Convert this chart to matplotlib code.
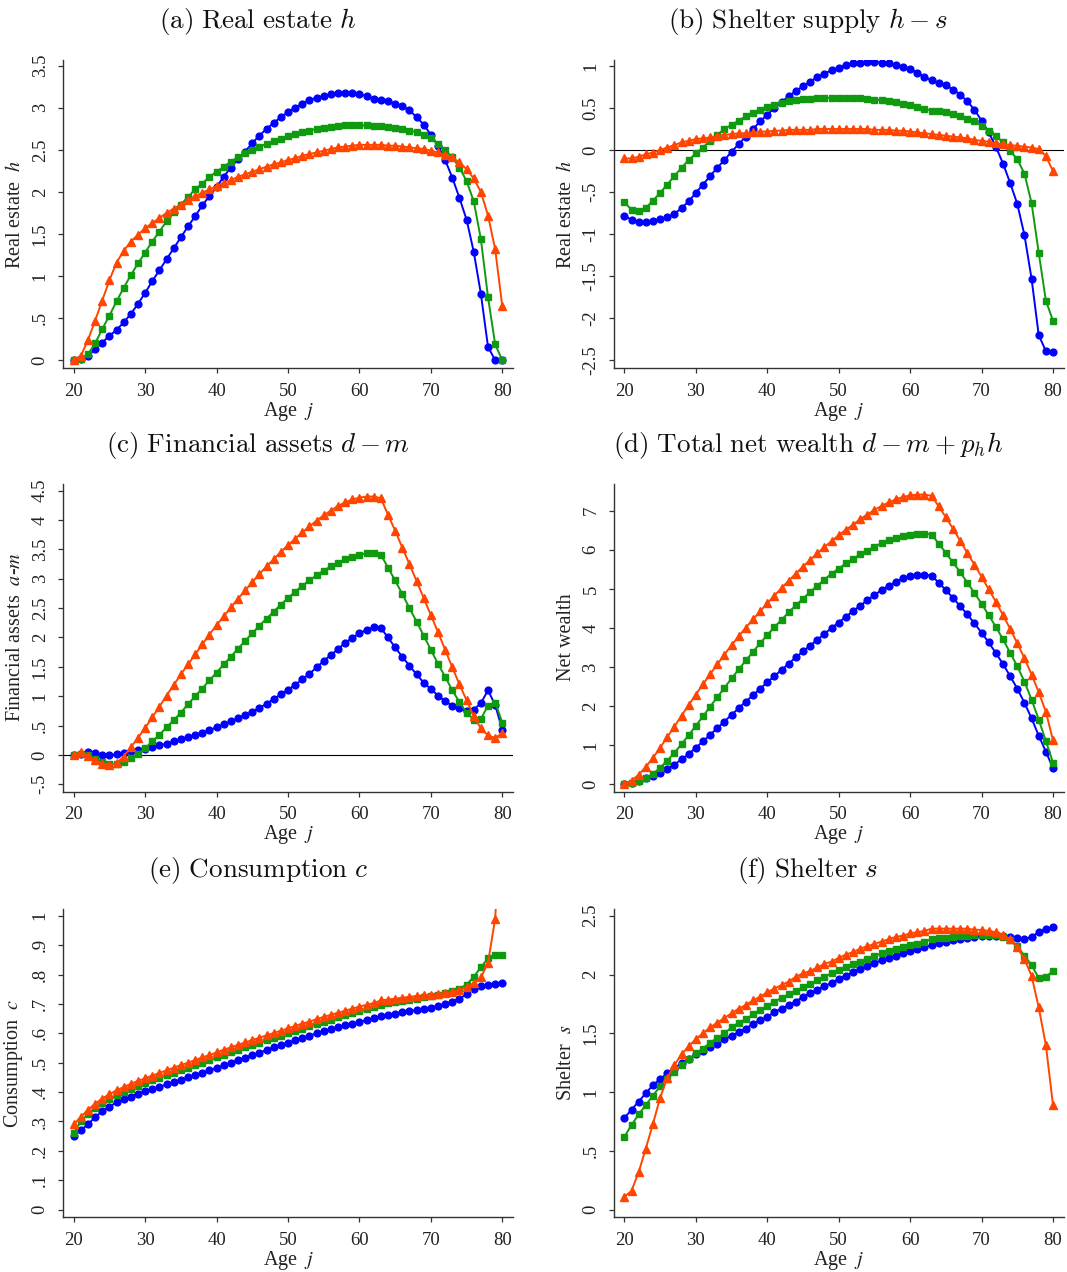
import numpy as np
import matplotlib
matplotlib.use("Agg")
import matplotlib.pyplot as plt

# Edades del ciclo de vida
ages = np.arange(20, 81)

# (a) Real estate h
h_blue = [0.00, 0.01, 0.05, 0.13, 0.21, 0.29, 0.36, 0.45, 0.55, 0.67,
          0.80, 0.94, 1.07, 1.20, 1.33, 1.46, 1.59, 1.71, 1.84, 1.95,
          2.06, 2.18, 2.29, 2.39, 2.48, 2.58, 2.67, 2.75, 2.82, 2.89,
          2.95, 3.00, 3.05, 3.09, 3.12, 3.14, 3.16, 3.17, 3.18, 3.17,
          3.16, 3.14, 3.11, 3.09, 3.08, 3.05, 3.02, 2.97, 2.89, 2.80,
          2.68, 2.55, 2.38, 2.17, 1.93, 1.67, 1.29, 0.79, 0.16, 0.00, 0.00]
h_green = [0.00, 0.01, 0.07, 0.20, 0.37, 0.53, 0.70, 0.86, 1.01, 1.15,
           1.28, 1.41, 1.53, 1.65, 1.76, 1.85, 1.94, 2.03, 2.10, 2.18,
           2.24, 2.30, 2.36, 2.41, 2.46, 2.50, 2.54, 2.57, 2.60, 2.63,
           2.66, 2.69, 2.71, 2.73, 2.75, 2.76, 2.77, 2.78, 2.79, 2.79,
           2.79, 2.79, 2.78, 2.78, 2.77, 2.76, 2.75, 2.73, 2.71, 2.68,
           2.64, 2.57, 2.50, 2.41, 2.29, 2.13, 1.89, 1.44, 0.75, 0.19, 0.00]
h_red = [0.00, 0.05, 0.24, 0.47, 0.71, 0.95, 1.16, 1.30, 1.41, 1.49,
         1.57, 1.63, 1.69, 1.75, 1.80, 1.85, 1.90, 1.95, 1.99, 2.03,
         2.07, 2.11, 2.14, 2.18, 2.21, 2.24, 2.27, 2.30, 2.33, 2.35,
         2.38, 2.40, 2.43, 2.45, 2.47, 2.49, 2.51, 2.53, 2.54, 2.55,
         2.56, 2.56, 2.56, 2.56, 2.55, 2.55, 2.54, 2.53, 2.52, 2.51,
         2.49, 2.47, 2.44, 2.41, 2.35, 2.27, 2.16, 2.00, 1.72, 1.32, 0.64]

# (b) Shelter supply h - s
hs_blue = [-0.78, -0.83, -0.86, -0.86, -0.84, -0.82, -0.80, -0.76, -0.69, -0.61,
           -0.51, -0.41, -0.31, -0.21, -0.12, -0.02, 0.07, 0.16, 0.25, 0.34,
           0.42, 0.50, 0.57, 0.64, 0.70, 0.76, 0.81, 0.87, 0.91, 0.95,
           0.98, 1.01, 1.03, 1.04, 1.05, 1.05, 1.04, 1.03, 1.01, 0.99,
           0.96, 0.92, 0.87, 0.83, 0.80, 0.77, 0.72, 0.66, 0.58, 0.48,
           0.35, 0.21, 0.04, -0.16, -0.39, -0.64, -1.01, -1.53, -2.20, -2.39, -2.40]
hs_green = [-0.62, -0.71, -0.73, -0.69, -0.60, -0.51, -0.41, -0.31, -0.21, -0.12,
            -0.04, 0.03, 0.11, 0.18, 0.25, 0.30, 0.35, 0.40, 0.44, 0.48,
            0.51, 0.54, 0.56, 0.58, 0.59, 0.61, 0.61, 0.62, 0.62, 0.62,
            0.62, 0.62, 0.62, 0.62, 0.61, 0.60, 0.59, 0.58, 0.57, 0.55,
            0.53, 0.51, 0.49, 0.47, 0.46, 0.45, 0.43, 0.40, 0.37, 0.34,
            0.29, 0.23, 0.17, 0.09, -0.01, -0.11, -0.28, -0.63, -1.22, -1.79, -2.03]
hs_red = [-0.10, -0.10, -0.08, -0.05, -0.03, 0.00, 0.03, 0.06, 0.09, 0.11,
          0.13, 0.14, 0.15, 0.17, 0.18, 0.19, 0.20, 0.20, 0.21, 0.22,
          0.22, 0.23, 0.23, 0.24, 0.24, 0.24, 0.24, 0.25, 0.25, 0.25,
          0.25, 0.25, 0.25, 0.25, 0.25, 0.24, 0.24, 0.24, 0.23, 0.23,
          0.22, 0.21, 0.20, 0.19, 0.18, 0.17, 0.16, 0.15, 0.14, 0.12,
          0.11, 0.10, 0.08, 0.07, 0.06, 0.05, 0.04, 0.03, 0.01, -0.07, -0.25]

# (c) Financial assets d - m
fa_blue = [0.00, 0.02, 0.05, 0.03, 0.00, -0.01, 0.01, 0.04, 0.06, 0.08,
           0.10, 0.13, 0.16, 0.19, 0.23, 0.27, 0.30, 0.34, 0.38, 0.42,
           0.47, 0.52, 0.57, 0.62, 0.68, 0.73, 0.80, 0.87, 0.95, 1.03,
           1.11, 1.19, 1.29, 1.38, 1.49, 1.60, 1.70, 1.80, 1.91, 1.99,
           2.07, 2.13, 2.17, 2.16, 2.00, 1.83, 1.67, 1.52, 1.37, 1.23,
           1.12, 1.01, 0.91, 0.84, 0.79, 0.74, 0.77, 0.88, 1.10, 0.85, 0.43]
fa_green = [0.00, 0.02, 0.00, -0.07, -0.13, -0.16, -0.15, -0.12, -0.06, 0.02,
            0.11, 0.23, 0.34, 0.47, 0.59, 0.72, 0.86, 1.00, 1.13, 1.27,
            1.40, 1.54, 1.67, 1.81, 1.94, 2.07, 2.20, 2.32, 2.44, 2.56,
            2.67, 2.78, 2.88, 2.97, 3.06, 3.14, 3.21, 3.27, 3.33, 3.37,
            3.41, 3.43, 3.43, 3.41, 3.19, 2.97, 2.74, 2.50, 2.27, 2.03,
            1.79, 1.55, 1.33, 1.10, 0.90, 0.72, 0.60, 0.61, 0.84, 0.89, 0.55]
fa_red = [0.00, 0.05, -0.02, -0.09, -0.15, -0.17, -0.14, -0.03, 0.13, 0.29,
          0.46, 0.64, 0.82, 1.01, 1.19, 1.37, 1.54, 1.71, 1.88, 2.05,
          2.21, 2.36, 2.51, 2.66, 2.80, 2.94, 3.08, 3.21, 3.33, 3.46,
          3.57, 3.68, 3.79, 3.89, 3.99, 4.08, 4.16, 4.24, 4.30, 4.35,
          4.38, 4.40, 4.40, 4.37, 4.09, 3.82, 3.53, 3.25, 2.96, 2.67,
          2.38, 2.09, 1.79, 1.49, 1.20, 0.93, 0.66, 0.45, 0.33, 0.29, 0.37]

# (d) Total net wealth
nw_blue = [0.00, 0.05, 0.10, 0.16, 0.22, 0.30, 0.40, 0.51, 0.64, 0.78,
           0.94, 1.10, 1.27, 1.44, 1.61, 1.78, 1.95, 2.12, 2.28, 2.45,
           2.61, 2.77, 2.93, 3.09, 3.25, 3.40, 3.55, 3.70, 3.85, 4.00,
           4.14, 4.29, 4.43, 4.57, 4.71, 4.84, 4.97, 5.08, 5.18, 5.27,
           5.32, 5.35, 5.36, 5.34, 5.16, 4.97, 4.77, 4.56, 4.35, 4.12,
           3.88, 3.63, 3.36, 3.08, 2.77, 2.45, 2.09, 1.69, 1.25, 0.84, 0.42]
nw_green = [0.00, 0.04, 0.09, 0.16, 0.27, 0.43, 0.61, 0.81, 1.03, 1.26,
            1.50, 1.74, 1.99, 2.23, 2.47, 2.71, 2.94, 3.17, 3.39, 3.61,
            3.82, 4.02, 4.21, 4.40, 4.58, 4.75, 4.92, 5.08, 5.24, 5.39,
            5.52, 5.65, 5.77, 5.88, 5.98, 6.08, 6.17, 6.25, 6.31, 6.36,
            6.39, 6.41, 6.41, 6.39, 6.16, 5.92, 5.68, 5.43, 5.16, 4.90,
            4.62, 4.33, 4.03, 3.71, 3.37, 3.02, 2.63, 2.17, 1.66, 1.11, 0.56]
nw_red = [0.00, 0.10, 0.25, 0.45, 0.68, 0.94, 1.21, 1.48, 1.76, 2.03,
          2.30, 2.56, 2.82, 3.07, 3.32, 3.56, 3.79, 4.01, 4.22, 4.43,
          4.63, 4.83, 5.02, 5.21, 5.39, 5.57, 5.74, 5.91, 6.07, 6.22,
          6.37, 6.51, 6.64, 6.78, 6.90, 7.02, 7.12, 7.21, 7.29, 7.35,
          7.39, 7.41, 7.41, 7.38, 7.11, 6.83, 6.54, 6.23, 5.92, 5.62,
          5.31, 4.99, 4.67, 4.33, 3.98, 3.61, 3.23, 2.81, 2.36, 1.86, 1.13]

# (e) Consumption c
c_blue = [0.250, 0.270, 0.290, 0.315, 0.335, 0.350, 0.365, 0.375, 0.385, 0.395,
          0.403, 0.410, 0.418, 0.426, 0.434, 0.442, 0.450, 0.458, 0.466, 0.474,
          0.483, 0.491, 0.500, 0.509, 0.517, 0.526, 0.534, 0.543, 0.552, 0.560,
          0.568, 0.576, 0.584, 0.592, 0.600, 0.607, 0.614, 0.621, 0.627, 0.633,
          0.639, 0.645, 0.651, 0.658, 0.663, 0.667, 0.671, 0.675, 0.679, 0.683,
          0.687, 0.693, 0.700, 0.708, 0.718, 0.733, 0.750, 0.762, 0.766, 0.769, 0.771]
c_green = [0.260, 0.300, 0.325, 0.345, 0.362, 0.377, 0.390, 0.400, 0.410, 0.420,
           0.430, 0.440, 0.448, 0.457, 0.466, 0.475, 0.483, 0.492, 0.500, 0.509,
           0.518, 0.527, 0.535, 0.544, 0.552, 0.560, 0.568, 0.576, 0.584, 0.592,
           0.600, 0.608, 0.616, 0.624, 0.632, 0.640, 0.647, 0.655, 0.662, 0.669,
           0.676, 0.682, 0.689, 0.698, 0.702, 0.706, 0.710, 0.714, 0.718, 0.722,
           0.726, 0.731, 0.736, 0.744, 0.752, 0.766, 0.792, 0.825, 0.855, 0.866, 0.868]
c_red = [0.290, 0.315, 0.340, 0.360, 0.378, 0.393, 0.406, 0.417, 0.428, 0.438,
         0.447, 0.456, 0.465, 0.474, 0.483, 0.492, 0.500, 0.509, 0.518, 0.526,
         0.535, 0.544, 0.552, 0.561, 0.569, 0.577, 0.585, 0.593, 0.601, 0.609,
         0.617, 0.625, 0.633, 0.640, 0.648, 0.656, 0.663, 0.670, 0.677, 0.684,
         0.691, 0.697, 0.703, 0.712, 0.715, 0.718, 0.721, 0.724, 0.727, 0.729,
         0.731, 0.734, 0.737, 0.741, 0.748, 0.757, 0.770, 0.790, 0.840, 0.990, 1.400]

# (f) Shelter s
s_blue = [0.78, 0.85, 0.92, 0.99, 1.06, 1.11, 1.16, 1.20, 1.25, 1.28,
          1.32, 1.35, 1.38, 1.41, 1.45, 1.48, 1.51, 1.54, 1.58, 1.61,
          1.64, 1.68, 1.71, 1.74, 1.77, 1.81, 1.84, 1.87, 1.90, 1.93,
          1.96, 1.99, 2.02, 2.05, 2.07, 2.10, 2.12, 2.14, 2.16, 2.18,
          2.20, 2.22, 2.23, 2.25, 2.27, 2.28, 2.29, 2.30, 2.31, 2.32,
          2.33, 2.33, 2.33, 2.33, 2.32, 2.31, 2.30, 2.32, 2.36, 2.39, 2.40]
s_green = [0.62, 0.72, 0.81, 0.89, 0.97, 1.05, 1.11, 1.17, 1.23, 1.28,
           1.33, 1.37, 1.42, 1.46, 1.50, 1.55, 1.59, 1.62, 1.66, 1.70,
           1.73, 1.77, 1.80, 1.83, 1.86, 1.89, 1.92, 1.95, 1.98, 2.01,
           2.04, 2.06, 2.09, 2.11, 2.13, 2.16, 2.18, 2.20, 2.22, 2.23,
           2.25, 2.26, 2.28, 2.30, 2.31, 2.31, 2.32, 2.33, 2.33, 2.34,
           2.34, 2.34, 2.34, 2.32, 2.29, 2.24, 2.16, 2.08, 1.97, 1.98, 2.03]
s_red = [0.11, 0.16, 0.32, 0.52, 0.73, 0.95, 1.12, 1.23, 1.32, 1.39,
         1.45, 1.50, 1.55, 1.59, 1.63, 1.67, 1.71, 1.74, 1.78, 1.81,
         1.85, 1.88, 1.91, 1.94, 1.98, 2.01, 2.03, 2.06, 2.09, 2.11,
         2.14, 2.17, 2.19, 2.22, 2.24, 2.26, 2.28, 2.30, 2.32, 2.33,
         2.35, 2.36, 2.37, 2.39, 2.39, 2.39, 2.39, 2.39, 2.39, 2.38,
         2.38, 2.37, 2.36, 2.34, 2.30, 2.23, 2.13, 1.99, 1.72, 1.40, 0.89]

# Etiquetas de los ejes
x_ticks = [20, 30, 40, 50, 60, 70, 80]
yt_a = [0, 0.5, 1, 1.5, 2, 2.5, 3, 3.5]
yl_a = ["0", ".5", "1", "1.5", "2", "2.5", "3", "3.5"]
yt_b = [-2.5, -2, -1.5, -1, -0.5, 0, 0.5, 1]
yl_b = ["-2.5", "-2", "-1.5", "-1", "-.5", "0", "0.5", "1"]
yt_c = [-0.5, 0, 0.5, 1, 1.5, 2, 2.5, 3, 3.5, 4, 4.5]
yl_c = ["-.5", "0", ".5", "1", "1.5", "2", "2.5", "3", "3.5", "4", "4.5"]
yt_d = [0, 1, 2, 3, 4, 5, 6, 7]
yl_d = ["0", "1", "2", "3", "4", "5", "6", "7"]
yt_e = [0, 0.1, 0.2, 0.3, 0.4, 0.5, 0.6, 0.7, 0.8, 0.9, 1]
yl_e = ["0", ".1", ".2", ".3", ".4", ".5", ".6", ".7", ".8", ".9", "1"]
yt_f = [0, 0.5, 1, 1.5, 2, 2.5]
yl_f = ["0", ".5", "1", "1.5", "2", "2.5"]

BLUE = "#0000ff"
GREEN = "#109a10"
RED = "#ff4500"

plt.rcParams["font.family"] = ["Liberation Serif", "DejaVu Serif"]
plt.rcParams["mathtext.fontset"] = "stix"

W, H = 1067, 1272
fig = plt.figure(figsize=(W / 100, H / 100), dpi=100)

# posiciones de los ejes en pixeles (izq, arriba)
col_left = [63.3, 614.0]
row_top = [60.0, 483.5, 909.0]
ax_w, ax_h = 450.0, 308.0
title_x = [258, 808]

panels = [
    ("(a)\\ Real\\ estate}\\ h", "Real estate  $h$", (h_blue, h_green, h_red),
     yt_a, yl_a, (-0.092, 3.568), False),
    ("(b)\\ Shelter\\ supply}\\ h-s", "Real estate  $h$", (hs_blue, hs_green, hs_red),
     yt_b, yl_b, (-2.592, 1.071), True),
    ("(c)\\ Financial\\ assets}\\ d-m", "Financial assets  $a$-$m$", (fa_blue, fa_green, fa_red),
     yt_c, yl_c, (-0.624, 4.622), True),
    ("(d)\\ Total\\ net\\ wealth}\\ d-m+p_h h", "Net wealth", (nw_blue, nw_green, nw_red),
     yt_d, yl_d, (-0.179, 7.694), False),
    ("(e)\\ Consumption}\\ c", "Consumption  $c$", (c_blue, c_green, c_red),
     yt_e, yl_e, (-0.025, 1.023), False),
    ("(f)\\ Shelter}\\ s", "Shelter  $s$", (s_blue, s_green, s_red),
     yt_f, yl_f, (-0.062, 2.557), False),
]

for i, (title, ylab, series, yt, yl, ylim, zero_line) in enumerate(panels):
    r, c = divmod(i, 2)
    left = col_left[c] / W
    bottom = 1 - (row_top[r] + ax_h) / H
    ax = fig.add_axes([left, bottom, ax_w / W, ax_h / H])

    if zero_line:
        ax.axhline(0, color="black", lw=0.8, zorder=1)

    blue, green, red = series
    ax.plot(ages, blue, color=BLUE, marker="o", ms=4.9, lw=1.4, zorder=3)
    ax.plot(ages, green, color=GREEN, marker="s", ms=4.7, lw=1.4, zorder=4)
    ax.plot(ages, red, color=RED, marker="^", ms=5.6, lw=1.4, zorder=5)

    ax.set_xlim(18.55, 81.54)
    ax.set_ylim(*ylim)
    ax.set_xticks(x_ticks)
    ax.set_yticks(yt)
    ax.set_yticklabels(yl, rotation=90, va="center")

    for side in ("top", "right"):
        ax.spines[side].set_visible(False)
    for side in ("left", "bottom"):
        ax.spines[side].set_color("#333333")
        ax.spines[side].set_linewidth(1.0)
    ax.tick_params(direction="out", length=3.5, width=0.9, color="#333333",
                   labelsize=13.5, pad=7, labelcolor="#222222")

    ax.set_xlabel("Age  $j$", fontsize=14.5, color="#222222")
    ax.xaxis.set_label_coords(0.5, -32 / ax_h)
    ax.set_ylabel(ylab, fontsize=14.5, color="#222222")
    ax.yaxis.set_label_coords(-38 / ax_w, 0.5)

    # titulo centrado sobre todo el panel
    ax.text((title_x[c] - col_left[c]) / ax_w, 1 + 38 / ax_h,
            "$\\mathrm{" + title + "$", transform=ax.transAxes,
            ha="center", va="center", fontsize=19.5, math_fontfamily="cm",
            color="#111111")

fig.savefig("out.png", dpi=100)
